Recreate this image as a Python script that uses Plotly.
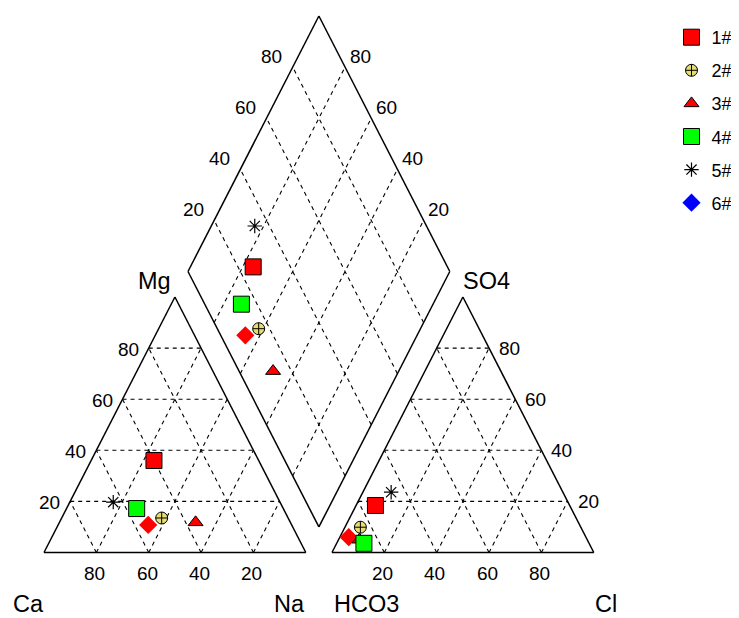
import numpy as np
import plotly.graph_objects as go

# ---------------- data (percent of meq) ----------------
samples = ["1#", "2#", "3#", "4#", "5#", "6#"]
ca   = [40.0, 48.3, 36.2, 56.0, 63.7, 54.8]
mg   = [36.0, 13.5, 11.8, 17.2, 19.7, 10.8]
na   = [24.0, 38.2, 52.0, 26.8, 16.6, 34.4]
hco3 = [74.2, 84.2, 87.0, 86.0, 65.6, 90.6]
so4  = [18.4,  9.9,  5.0,  3.6, 23.6,  6.0]
cl   = [ 7.4,  5.9,  8.0, 10.4, 10.8,  3.4]
grid_vals = [20, 40, 60, 80]

# ---------------- styles ----------------
H = np.sqrt(3) / 2
GAP = 0.1
styles = {
    "1#": dict(symbol="square", size=16, color="#ff0000", line=dict(color="black", width=1)),
    "2#": dict(symbol="circle-cross", size=12, color="#e6dc70", line=dict(color="black", width=1)),
    "3#": dict(symbol="triangle-up", size=13, color="#ff0000", line=dict(color="black", width=1)),
    "4#": dict(symbol="square", size=16, color="#00ff00", line=dict(color="black", width=1)),
    "5#": dict(symbol="asterisk-open", size=12, color="black", line=dict(color="black", width=1.2)),
    "6#": dict(symbol="diamond", size=14, color="#ff0000", line=dict(color="#ff0000", width=0)),
}
legend_styles = dict(styles)
legend_styles["6#"] = dict(symbol="diamond", size=14, color="#0000ff", line=dict(color="#0000ff", width=0))

FONT = "Arial, Liberation Sans, sans-serif"

# ---------------- projections ----------------
def cat_xy(c, m, n):
    return (n + m / 2) / 100.0, m / 100.0 * H

def an_xy(h, s, c):
    return 1 + GAP + (c + s / 2) / 100.0, s / 100.0 * H

def dia_xy(n, h):
    n, h = n / 100.0, h / 100.0
    return 1 + GAP / 2 + 0.5 * (n - h), GAP * H + H * (2 - n - h)

fig = go.Figure()

def add_lines(segs, dash=None, width=1.0):
    xs, ys = [], []
    for (x0, y0), (x1, y1) in segs:
        xs += [x0, x1, None]
        ys += [y0, y1, None]
    fig.add_trace(go.Scatter(x=xs, y=ys, mode="lines", hoverinfo="skip", showlegend=False,
                             line=dict(color="black", width=width, dash=dash)))

# grid lines
gsegs = []
for v in grid_vals:
    w = 100 - v
    gsegs.append((cat_xy(w, v, 0), cat_xy(0, v, w)))
    gsegs.append((cat_xy(w, 0, v), cat_xy(0, w, v)))
    gsegs.append((cat_xy(v, 0, w), cat_xy(v, w, 0)))
    gsegs.append((an_xy(w, v, 0), an_xy(0, v, w)))
    gsegs.append((an_xy(w, 0, v), an_xy(0, w, v)))
    gsegs.append((an_xy(v, 0, w), an_xy(v, w, 0)))
    gsegs.append((dia_xy(v, 100), dia_xy(v, 0)))
    gsegs.append((dia_xy(100, v), dia_xy(0, v)))
add_lines(gsegs, dash="4px,4px", width=1.1)

# outlines
osegs = []
L = [cat_xy(100, 0, 0), cat_xy(0, 0, 100), cat_xy(0, 100, 0)]
R = [an_xy(100, 0, 0), an_xy(0, 0, 100), an_xy(0, 100, 0)]
D = [dia_xy(100, 100), dia_xy(100, 0), dia_xy(0, 0), dia_xy(0, 100)]
for poly in (L, R, D):
    for i in range(len(poly)):
        osegs.append((poly[i], poly[(i + 1) % len(poly)]))
add_lines(osegs, width=1.5)

# data points (drawn in this order)
order = [5, 0, 1, 2, 3, 4]
for i in order:
    s = samples[i]
    st = styles[s]
    p1 = cat_xy(ca[i], mg[i], na[i])
    p2 = an_xy(hco3[i], so4[i], cl[i])
    p3 = dia_xy(na[i], hco3[i])
    fig.add_trace(go.Scatter(
        x=[p1[0], p2[0], p3[0]], y=[p1[1], p2[1], p3[1]], mode="markers",
        name=s, showlegend=False, hoverinfo="name",
        marker=dict(symbol=st["symbol"], size=st["size"], color=st["color"], line=st["line"])))

# legend entries
for s in samples:
    st = legend_styles[s]
    fig.add_trace(go.Scatter(
        x=[None], y=[None], mode="markers", name=s, legendgroup=s,
        marker=dict(symbol=st["symbol"], size=st["size"], color=st["color"], line=st["line"])))

# ---------------- text ----------------
ann = []
def label(pt, text, dx, dy, size=19, xanchor="center"):
    ann.append(dict(x=pt[0], y=pt[1], text=text, showarrow=False, xshift=dx, yshift=dy,
                    xanchor=xanchor, yanchor="middle",
                    font=dict(family=FONT, size=size, color="black")))

for v in grid_vals:
    label(cat_xy(v, 0, 100 - v), str(v), -1.5, -20.5)           # Ca on base
    label(cat_xy(100 - v, v, 0), str(v), -20.5, -1)             # Mg on left edge
    label(an_xy(100 - v, 0, v), str(v), -2, -21)                # Cl on base
    label(an_xy(0, v, 100 - v), str(v), 20.5, 0)                # SO4 on right edge
    label(dia_xy(0, 100 - v), str(v), -21, 11)                  # diamond upper-left
    label(dia_xy(100 - v, 0), str(v), 15, 11)                   # diamond upper-right

label(cat_xy(100, 0, 0), "Ca", -16, -51.5, size=23.5)
label(cat_xy(0, 0, 100), "Na", -16, -51.5, size=23.5)
label(cat_xy(0, 100, 0), "Mg", -20, 16, size=23.5)
label(an_xy(100, 0, 0), "HCO3", 34.5, -51.5, size=23.5)
label(an_xy(0, 0, 100), "Cl", 12, -51.5, size=23.5)
label(an_xy(0, 100, 0), "SO4", 24, 16, size=23.5)

# page body adds an 8px margin; figure is sized to fit the window
OFF = 8
W, HH = 739 - OFF, 618 - OFF
x0px, x1px = 44.0 - OFF, 305.8 - OFF
ybase, yscale = 552.5 - OFF, 295.0
ux = x1px - x0px
xr = [-x0px / ux, (W - x0px) / ux]
yr = [(ybase - HH) / yscale, ybase / yscale]

fig.update_layout(
    width=W, height=HH, margin=dict(l=0, r=0, t=0, b=0),
    paper_bgcolor="white", plot_bgcolor="white",
    xaxis=dict(range=xr, visible=False, fixedrange=True),
    yaxis=dict(range=yr, visible=False, fixedrange=True),
    annotations=ann,
    showlegend=True,
    legend=dict(x=663.5 / W, xanchor="left", y=1 - 11 / HH, yanchor="top",
                font=dict(family=FONT, size=18, color="black"),
                tracegroupgap=6.7, bgcolor="rgba(0,0,0,0)", itemsizing="trace"),
)

fig.write_html("out.html")
